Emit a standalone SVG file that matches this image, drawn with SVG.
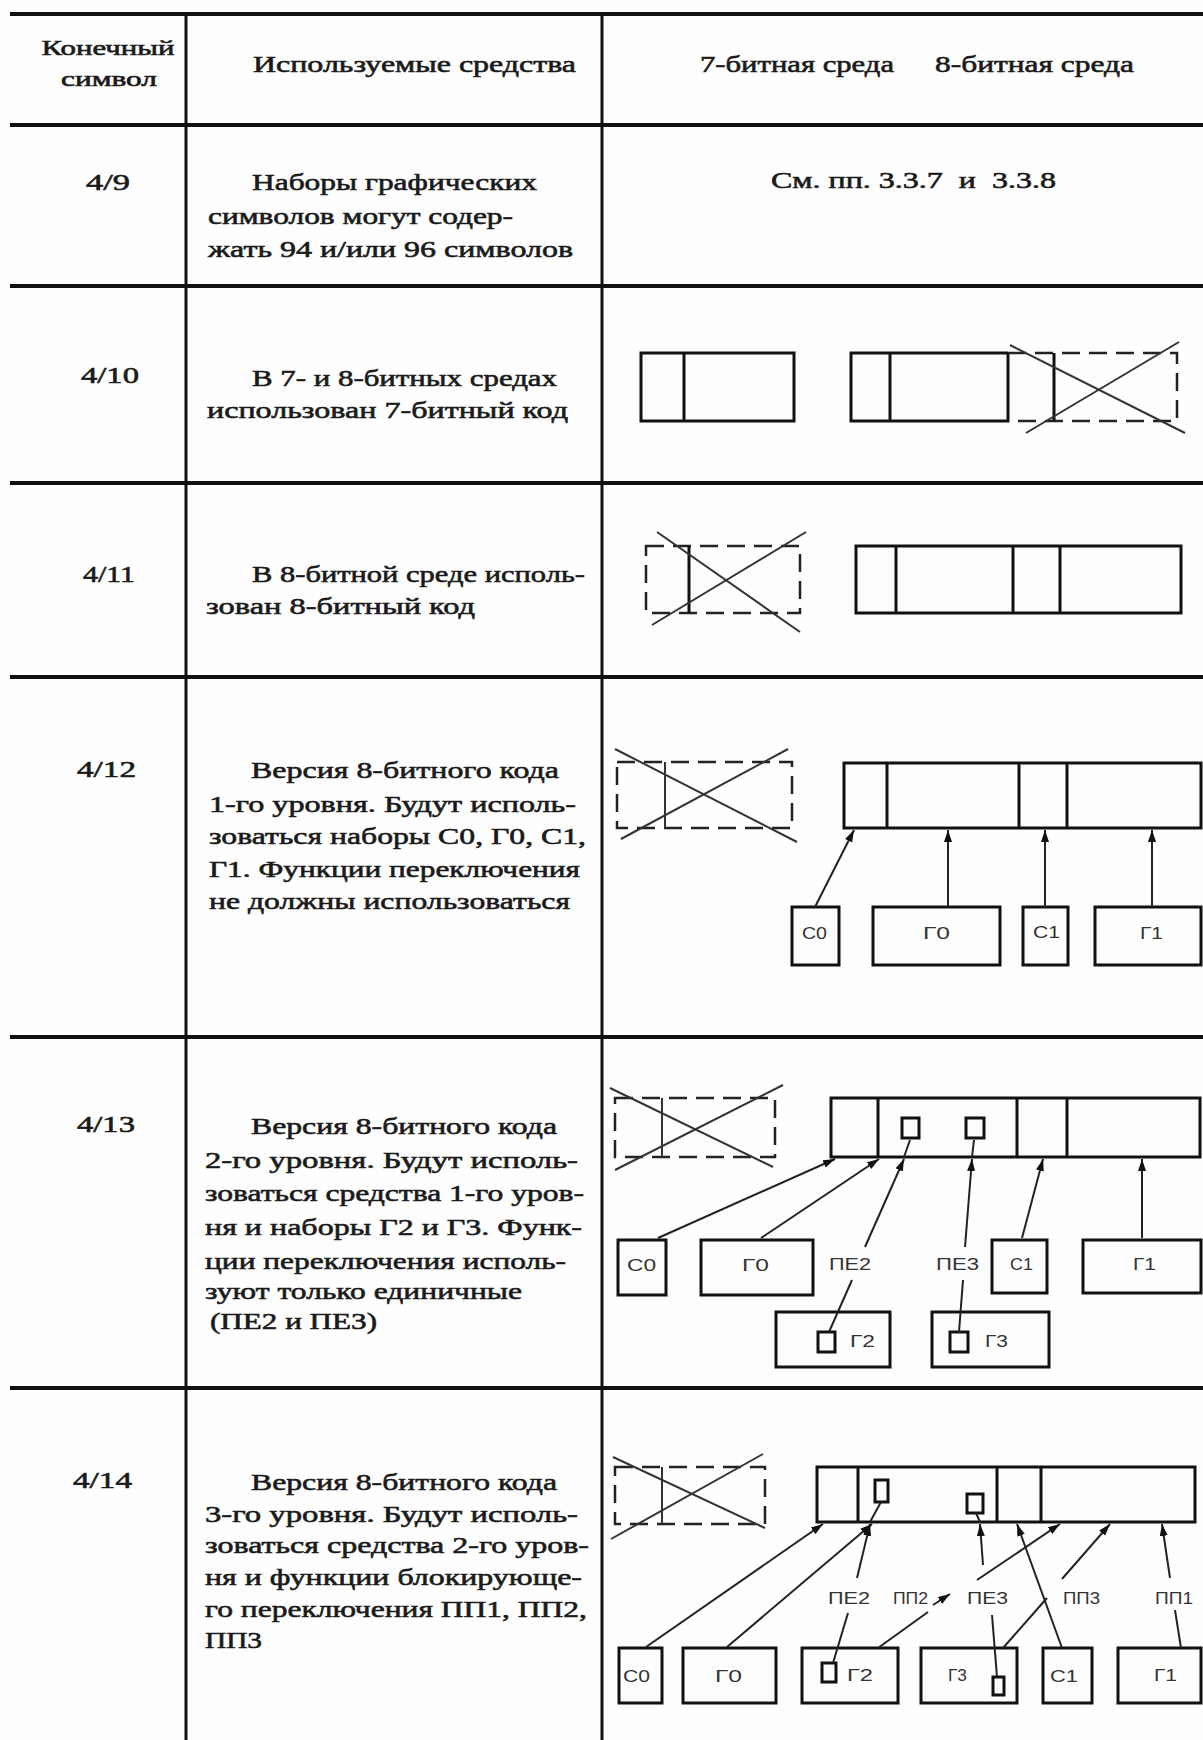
<svg xmlns="http://www.w3.org/2000/svg" width="1203" height="1740" viewBox="0 0 1203 1740">
<defs>
<marker id="ah" markerUnits="userSpaceOnUse" markerWidth="14" markerHeight="10" refX="12" refY="4" orient="auto">
<path d="M0,0 L12,4 L0,8 z" fill="#111"/>
</marker>
<style>
.t{font-family:"Liberation Serif","Times New Roman",serif;font-size:24px;font-weight:normal;fill:#1a1a1a;stroke:#1a1a1a;stroke-width:0.6px;white-space:pre}
.h{font-family:"Liberation Serif","Times New Roman",serif;font-size:21px;font-weight:normal;fill:#1a1a1a;stroke:#1a1a1a;stroke-width:0.6px}
.s{font-family:"Liberation Sans","DejaVu Sans",sans-serif;font-size:17px;fill:#333}
.grid{stroke:#111;stroke-width:4;fill:none}
.vgrid{stroke:#111;stroke-width:3;fill:none}
.box{fill:none;stroke:#111;stroke-width:3}
.dash{fill:none;stroke:#222;stroke-width:2.5;stroke-dasharray:18 9}
.x{stroke:#333;stroke-width:2;fill:none}
.c{stroke:#222;stroke-width:2;fill:none;marker-end:url(#ah)}
.l{stroke:#222;stroke-width:2;fill:none}
</style>
</defs>
<rect x="0" y="0" width="1203" height="1740" fill="#fefefe"/>

<g id="table">
<line class="grid" x1="10" y1="14" x2="1203" y2="14"/>
<line class="grid" x1="10" y1="125" x2="1203" y2="125"/>
<line class="grid" x1="10" y1="286" x2="1203" y2="286"/>
<line class="grid" x1="10" y1="483" x2="1203" y2="483"/>
<line class="grid" x1="10" y1="677" x2="1203" y2="677"/>
<line class="grid" x1="10" y1="1037" x2="1203" y2="1037"/>
<line class="grid" x1="10" y1="1388" x2="1203" y2="1388"/>
<line class="vgrid" x1="186" y1="14" x2="186" y2="1740"/>
<line class="vgrid" x1="602" y1="14" x2="602" y2="1740"/>
</g>

<g id="header">
<text class="h" x="108" y="55" text-anchor="middle" textLength="133" lengthAdjust="spacingAndGlyphs">Конечный</text>
<text class="h" x="109" y="86" text-anchor="middle" textLength="96" lengthAdjust="spacingAndGlyphs">символ</text>
<text class="t" x="253" y="72" textLength="323" lengthAdjust="spacingAndGlyphs">Используемые средства</text>
<text class="t" x="700" y="72" textLength="194" lengthAdjust="spacingAndGlyphs">7-битная среда</text>
<text class="t" x="935" y="72" textLength="199" lengthAdjust="spacingAndGlyphs">8-битная среда</text>
</g>

<g id="row-4-9">
<text class="t" x="86" y="190" textLength="44" lengthAdjust="spacingAndGlyphs">4/9</text>
<text class="t" x="252" y="190" textLength="285" lengthAdjust="spacingAndGlyphs">Наборы графических</text>
<text class="t" x="208" y="224" textLength="305" lengthAdjust="spacingAndGlyphs">символов могут содер-</text>
<text class="t" x="208" y="257" textLength="365" lengthAdjust="spacingAndGlyphs">жать 94 и/или 96 символов</text>
<text class="t" x="771" y="188" textLength="285" lengthAdjust="spacingAndGlyphs">См. пп. 3.3.7  и  3.3.8</text>
</g>

<g id="row-4-10">
<text class="t" x="81" y="383" textLength="58" lengthAdjust="spacingAndGlyphs">4/10</text>
<text class="t" x="252" y="386" textLength="305" lengthAdjust="spacingAndGlyphs">В 7- и 8-битных средах</text>
<text class="t" x="207" y="418" textLength="361" lengthAdjust="spacingAndGlyphs">использован 7-битный код</text>
<g id="code7-4-10">
<rect class="box" x="641" y="353" width="153" height="68"/>
<line class="box" x1="684" y1="353" x2="684" y2="421"/>
</g>
<g id="code8-4-10">
<polyline class="box" points="1008,353 851,353 851,421 1008,421 1008,353"/>
<line class="box" x1="890" y1="353" x2="890" y2="421"/>
<polyline class="dash" points="1008,353 1177,353 1177,421 1008,421"/>
<line class="box" x1="1054" y1="353" x2="1054" y2="421"/>
<line class="x" x1="1010" y1="345" x2="1185" y2="433"/>
<line class="x" x1="1026" y1="433" x2="1179" y2="342"/>
</g>
</g>

<g id="row-4-11">
<text class="t" x="83" y="582" textLength="52" lengthAdjust="spacingAndGlyphs">4/11</text>
<text class="t" x="252" y="582" textLength="333" lengthAdjust="spacingAndGlyphs">В 8-битной среде исполь-</text>
<text class="t" x="206" y="614" textLength="269" lengthAdjust="spacingAndGlyphs">зован 8-битный код</text>
<g id="code7-4-11">
<rect class="dash" x="646" y="546" width="154" height="67"/>
<line class="box" x1="689" y1="546" x2="689" y2="613"/>
<line class="x" x1="657" y1="532" x2="800" y2="632"/>
<line class="x" x1="652" y1="625" x2="806" y2="532"/>
</g>
<g id="code8-4-11">
<rect class="box" x="856" y="546" width="325" height="67"/>
<line class="box" x1="896" y1="546" x2="896" y2="613"/>
<line class="box" x1="1013" y1="546" x2="1013" y2="613"/>
<line class="box" x1="1060" y1="546" x2="1060" y2="613"/>
</g>
</g>

<g id="row-4-12">
<text class="t" x="77" y="777" textLength="59" lengthAdjust="spacingAndGlyphs">4/12</text>
<text class="t" x="251" y="778" textLength="308" lengthAdjust="spacingAndGlyphs">Версия 8-битного кода</text>
<text class="t" x="209" y="812" textLength="367" lengthAdjust="spacingAndGlyphs">1-го уровня. Будут исполь-</text>
<text class="t" x="209" y="844" textLength="377" lengthAdjust="spacingAndGlyphs">зоваться наборы С0, Г0, С1,</text>
<text class="t" x="209" y="877" textLength="371" lengthAdjust="spacingAndGlyphs">Г1. Функции переключения</text>
<text class="t" x="209" y="909" textLength="361" lengthAdjust="spacingAndGlyphs">не должны использоваться</text>
<g id="code7-4-12">
<rect class="dash" x="617" y="762" width="175" height="66"/>
<line class="x" x1="665" y1="762" x2="665" y2="828"/>
<line class="x" x1="615" y1="749" x2="797" y2="842"/>
<line class="x" x1="621" y1="839" x2="788" y2="749"/>
</g>
<g id="code8-4-12">
<rect class="box" x="844" y="763" width="357" height="65"/>
<line class="box" x1="887" y1="763" x2="887" y2="828"/>
<line class="box" x1="1019" y1="763" x2="1019" y2="828"/>
<line class="box" x1="1067" y1="763" x2="1067" y2="828"/>
</g>
<g id="C0-4-12"><rect class="box" x="792" y="907" width="47" height="58"/><text class="s" x="802" y="939" textLength="25" lengthAdjust="spacingAndGlyphs">С0</text></g>
<g id="G0-4-12"><rect class="box" x="873" y="907" width="127" height="58"/><text class="s" x="923" y="939" textLength="27" lengthAdjust="spacingAndGlyphs">Г0</text></g>
<g id="C1-4-12"><rect class="box" x="1023" y="907" width="45" height="58"/><text class="s" x="1033" y="938" textLength="27" lengthAdjust="spacingAndGlyphs">С1</text></g>
<g id="G1-4-12"><rect class="box" x="1095" y="907" width="106" height="58"/><text class="s" x="1140" y="939" textLength="23" lengthAdjust="spacingAndGlyphs">Г1</text></g>
</g>

<g id="row-4-13">
<text class="t" x="77" y="1132" textLength="58" lengthAdjust="spacingAndGlyphs">4/13</text>
<text class="t" x="251" y="1134" textLength="306" lengthAdjust="spacingAndGlyphs">Версия 8-битного кода</text>
<text class="t" x="205" y="1168" textLength="373" lengthAdjust="spacingAndGlyphs">2-го уровня. Будут исполь-</text>
<text class="t" x="205" y="1201" textLength="379" lengthAdjust="spacingAndGlyphs">зоваться средства 1-го уров-</text>
<text class="t" x="205" y="1235" textLength="377" lengthAdjust="spacingAndGlyphs">ня и наборы Г2 и Г3. Функ-</text>
<text class="t" x="205" y="1269" textLength="361" lengthAdjust="spacingAndGlyphs">ции переключения исполь-</text>
<text class="t" x="205" y="1299" textLength="317" lengthAdjust="spacingAndGlyphs">зуют только единичные</text>
<text class="t" x="210" y="1329" textLength="167" lengthAdjust="spacingAndGlyphs">(ПЕ2 и ПЕ3)</text>
<g id="code7-4-13">
<rect class="dash" x="615" y="1098" width="160" height="59"/>
<line class="x" x1="662" y1="1098" x2="662" y2="1157"/>
<line class="x" x1="610" y1="1088" x2="773" y2="1167"/>
<line class="x" x1="615" y1="1170" x2="783" y2="1085"/>
</g>
<g id="code8-4-13">
<rect class="box" x="831" y="1098" width="369" height="59"/>
<line class="box" x1="878" y1="1098" x2="878" y2="1157"/>
<line class="box" x1="1017" y1="1098" x2="1017" y2="1157"/>
<line class="box" x1="1067" y1="1098" x2="1067" y2="1157"/>
<rect class="box" x="902" y="1118" width="17" height="20"/>
<rect class="box" x="966" y="1118" width="18" height="20"/>
</g>
<g id="C0-4-13"><rect class="box" x="618" y="1240" width="48" height="55"/><text class="s" x="627" y="1271" textLength="29" lengthAdjust="spacingAndGlyphs">С0</text></g>
<g id="G0-4-13"><rect class="box" x="701" y="1240" width="112" height="55"/><text class="s" x="742" y="1271" textLength="27" lengthAdjust="spacingAndGlyphs">Г0</text></g>
<g id="PE2-4-13"><text class="s" x="829" y="1270" textLength="42" lengthAdjust="spacingAndGlyphs">ПЕ2</text></g>
<g id="PE3-4-13"><text class="s" x="936" y="1270" textLength="43" lengthAdjust="spacingAndGlyphs">ПЕ3</text></g>
<g id="C1-4-13"><rect class="box" x="992" y="1240" width="55" height="53"/><text class="s" x="1010" y="1270" textLength="23" lengthAdjust="spacingAndGlyphs">С1</text></g>
<g id="G1-4-13"><rect class="box" x="1083" y="1240" width="118" height="53"/><text class="s" x="1133" y="1270" textLength="23" lengthAdjust="spacingAndGlyphs">Г1</text></g>
<g id="G2-4-13"><rect class="box" x="776" y="1312" width="114" height="55"/><rect class="box" x="818" y="1332" width="17" height="20"/><text class="s" x="850" y="1347" textLength="25" lengthAdjust="spacingAndGlyphs">Г2</text></g>
<g id="G3-4-13"><rect class="box" x="932" y="1312" width="117" height="55"/><rect class="box" x="950" y="1332" width="18" height="20"/><text class="s" x="985" y="1347" textLength="23" lengthAdjust="spacingAndGlyphs">Г3</text></g>
</g>

<g id="row-4-14">
<text class="t" x="73" y="1488" textLength="59" lengthAdjust="spacingAndGlyphs">4/14</text>
<text class="t" x="251" y="1490" textLength="306" lengthAdjust="spacingAndGlyphs">Версия 8-битного кода</text>
<text class="t" x="205" y="1522" textLength="373" lengthAdjust="spacingAndGlyphs">3-го уровня. Будут исполь-</text>
<text class="t" x="205" y="1553" textLength="384" lengthAdjust="spacingAndGlyphs">зоваться средства 2-го уров-</text>
<text class="t" x="205" y="1585" textLength="377" lengthAdjust="spacingAndGlyphs">ня и функции блокирующе-</text>
<text class="t" x="205" y="1617" textLength="382" lengthAdjust="spacingAndGlyphs">го переключения ПП1, ПП2,</text>
<text class="t" x="205" y="1648" textLength="57" lengthAdjust="spacingAndGlyphs">ПП3</text>
<g id="code7-4-14">
<rect class="dash" x="615" y="1467" width="150" height="57"/>
<line class="x" x1="662" y1="1467" x2="662" y2="1524"/>
<line class="x" x1="613" y1="1457" x2="765" y2="1528"/>
<line class="x" x1="611" y1="1539" x2="763" y2="1454"/>
</g>
<g id="code8-4-14">
<rect class="box" x="817" y="1467" width="378" height="55"/>
<line class="box" x1="858" y1="1467" x2="858" y2="1522"/>
<line class="box" x1="997" y1="1467" x2="997" y2="1522"/>
<line class="box" x1="1041" y1="1467" x2="1041" y2="1522"/>
<rect class="box" x="875" y="1480" width="13" height="22"/>
<rect class="box" x="967" y="1494" width="16" height="19"/>
</g>
<g id="C0-4-14"><rect class="box" x="619" y="1648" width="43" height="55"/><text class="s" x="623" y="1682" textLength="27" lengthAdjust="spacingAndGlyphs">С0</text></g>
<g id="G0-4-14"><rect class="box" x="683" y="1648" width="93" height="55"/><text class="s" x="715" y="1682" textLength="27" lengthAdjust="spacingAndGlyphs">Г0</text></g>
<g id="G2-4-14"><rect class="box" x="802" y="1648" width="96" height="55"/><rect class="box" x="822" y="1663" width="14" height="19"/><text class="s" x="847" y="1681" textLength="26" lengthAdjust="spacingAndGlyphs">Г2</text></g>
<g id="G3-4-14"><rect class="box" x="921" y="1648" width="96" height="55"/><rect class="box" x="993" y="1677" width="11" height="18"/><text class="s" x="948" y="1681" textLength="19" lengthAdjust="spacingAndGlyphs">Г3</text></g>
<g id="C1-4-14"><rect class="box" x="1043" y="1648" width="49" height="55"/><text class="s" x="1050" y="1682" textLength="28" lengthAdjust="spacingAndGlyphs">С1</text></g>
<g id="G1-4-14"><rect class="box" x="1118" y="1648" width="83" height="55"/><text class="s" x="1154" y="1681" textLength="23" lengthAdjust="spacingAndGlyphs">Г1</text></g>
<g id="PE2-4-14"><text class="s" x="828" y="1604" textLength="42" lengthAdjust="spacingAndGlyphs">ПЕ2</text></g>
<g id="PP2-4-14"><text class="s" x="893" y="1604" textLength="35" lengthAdjust="spacingAndGlyphs">ПП2</text></g>
<g id="PE3-4-14"><text class="s" x="967" y="1604" textLength="41" lengthAdjust="spacingAndGlyphs">ПЕ3</text></g>
<g id="PP3-4-14"><text class="s" x="1063" y="1604" textLength="37" lengthAdjust="spacingAndGlyphs">ПП3</text></g>
<g id="PP1-4-14"><text class="s" x="1155" y="1604" textLength="38" lengthAdjust="spacingAndGlyphs">ПП1</text></g>
</g>

<g id="connectors">
<line class="c" x1="815" y1="907" x2="854" y2="830"/>
<line class="c" x1="948" y1="907" x2="948" y2="830"/>
<line class="c" x1="1045" y1="907" x2="1045" y2="830"/>
<line class="c" x1="1152" y1="907" x2="1152" y2="830"/>
<line class="c" x1="658" y1="1238" x2="835" y2="1159"/>
<line class="c" x1="761" y1="1238" x2="879" y2="1159"/>
<line class="c" x1="865" y1="1247" x2="904" y2="1159"/>
<line class="l" x1="904" y1="1157" x2="910" y2="1140"/>
<line class="l" x1="852" y1="1280" x2="829" y2="1332"/>
<line class="c" x1="965" y1="1247" x2="972" y2="1159"/>
<line class="l" x1="972" y1="1157" x2="974" y2="1140"/>
<line class="l" x1="963" y1="1280" x2="959" y2="1332"/>
<line class="c" x1="1022" y1="1238" x2="1043" y2="1159"/>
<line class="c" x1="1142" y1="1238" x2="1142" y2="1159"/>
<line class="c" x1="646" y1="1647" x2="823" y2="1524"/>
<line class="c" x1="727" y1="1647" x2="872" y2="1524"/>
<line class="c" x1="857" y1="1578" x2="870" y2="1524"/>
<line class="l" x1="870" y1="1522" x2="881" y2="1502"/>
<line class="l" x1="848" y1="1613" x2="833" y2="1663"/>
<line class="l" x1="878" y1="1648" x2="928" y2="1612"/>
<line class="c" x1="933" y1="1605" x2="950" y2="1594"/>
<line class="c" x1="977" y1="1580" x2="1060" y2="1524"/>
<line class="c" x1="983" y1="1565" x2="980" y2="1524"/>
<line class="l" x1="980" y1="1522" x2="976" y2="1513"/>
<line class="l" x1="992" y1="1615" x2="997" y2="1677"/>
<line class="c" x1="1062" y1="1648" x2="1017" y2="1524"/>
<line class="l" x1="1003" y1="1648" x2="1047" y2="1598"/>
<line class="c" x1="1062" y1="1579" x2="1110" y2="1524"/>
<line class="c" x1="1170" y1="1578" x2="1162" y2="1524"/>
<line class="l" x1="1175" y1="1610" x2="1181" y2="1648"/>
</g>
</svg>
